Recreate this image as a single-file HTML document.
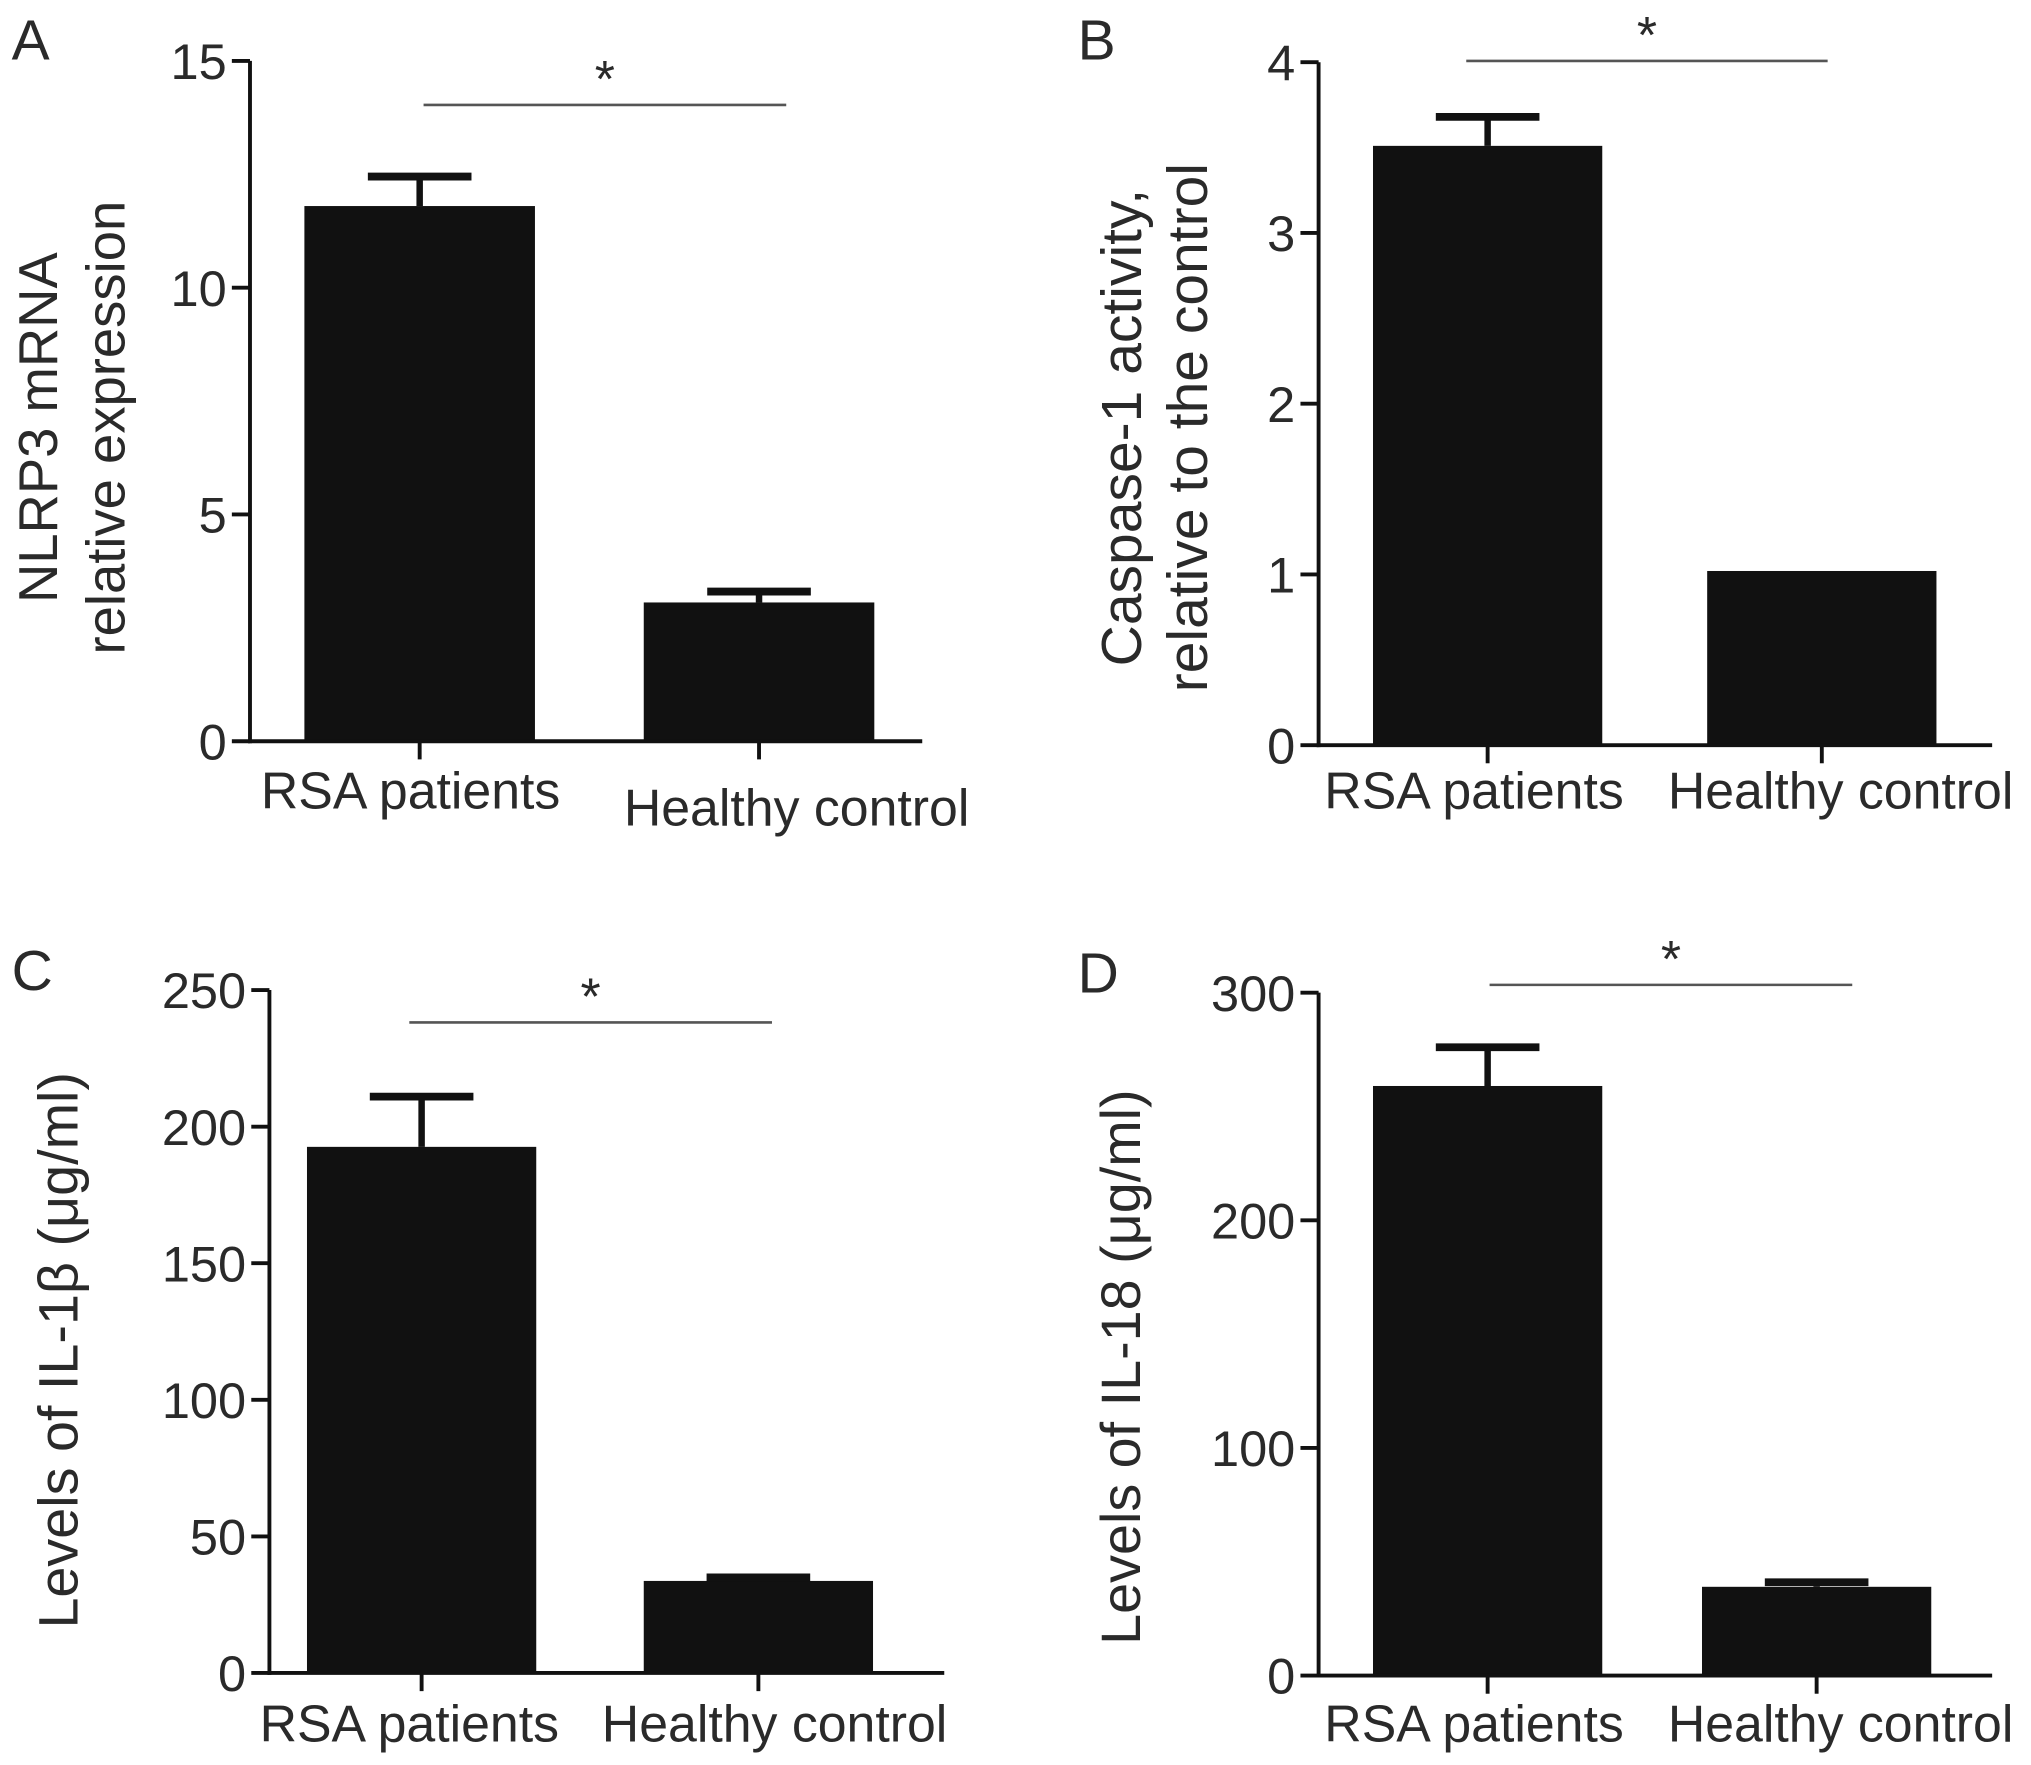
<!DOCTYPE html>
<html><head><meta charset="utf-8"><style>
html,body{margin:0;padding:0;background:#fff;}
svg{display:block;}
text{font-family:"Liberation Sans",Arial,sans-serif;fill:#2a2a2a;}
</style></head><body>
<svg id="fig" width="2031" height="1765" viewBox="0 0 1568 1362" preserveAspectRatio="none" xmlns="http://www.w3.org/2000/svg"></svg>
<script>
const categories = ["RSA patients", "Healthy control"];
const meansA = [11.8, 3.06];
const errA = [12.45, 3.3];
const ticksA = [0, 5, 10, 15];
const meansB = [3.51, 1.02];
const errB = [3.68, 1.02];
const ticksB = [0, 1, 2, 3, 4];
const meansC = [192.6, 33.7];
const errC = [211, 35];
const ticksC = [0, 50, 100, 150, 200, 250];
const meansD = [259, 39];
const errD = [276, 41];
const ticksD = [0, 100, 200, 300];

const NS = "http://www.w3.org/2000/svg";
const svg = document.getElementById('fig');
function mk(tag, attrs, parent, txt){
  const e = document.createElementNS(NS, tag);
  for (const k in attrs) e.setAttribute(k, attrs[k]);
  if (txt !== undefined) e.textContent = txt;
  (parent || svg).appendChild(e);
  return e;
}
function panel(cfg, means, errs, ticks){
  const g = mk('g', {});
  
  
  const ymax = ticks[ticks.length - 1];
  const yS = v => cfg.zero - (cfg.zero - cfg.top) * v / ymax;
  const L = mk('text', {x: cfg.lx, y: cfg.ly, 'font-size': 44}, g, cfg.id);
  
  
  means.forEach((m, i) => {
    const bx = cfg.barX[i], bw = cfg.barW;
    const r = mk('rect', {x: bx, y: yS(m), width: bw, height: cfg.zero - yS(m), fill: '#111'}, g);
    
    
    const cx = bx + bw / 2;
    if (errs[i] > m) {
      const e1 = mk('line', {x1: cx, x2: cx, y1: yS(m), y2: yS(errs[i]), stroke: '#111', 'stroke-width': 5}, g);
      
      
      const e2 = mk('line', {x1: cx - 40, x2: cx + 40, y1: yS(errs[i]), y2: yS(errs[i]), stroke: '#111', 'stroke-width': 6}, g);
      
      
    }
    const t = mk('line', {x1: cx, x2: cx, y1: cfg.zero, y2: cfg.zero + 14, stroke: '#111', 'stroke-width': 3}, g);
    
    
    const lab = mk('text', {x: cfg.catX[i], y: cfg.catY[i], 'font-size': 40, 'text-anchor': 'middle'}, g, categories[i]);
    
    
  });
  const ya = mk('line', {x1: cfg.ax, x2: cfg.ax, y1: cfg.top, y2: cfg.zero + 1.5, stroke: '#111', 'stroke-width': 3}, g);
  
  
  const xa = mk('line', {x1: cfg.ax - 1.5, x2: cfg.xEnd, y1: cfg.zero, y2: cfg.zero, stroke: '#111', 'stroke-width': 3}, g);
  
  
  ticks.forEach(v => {
    const tl = mk('line', {x1: cfg.ax - 14, x2: cfg.ax, y1: yS(v), y2: yS(v), stroke: '#111', 'stroke-width': 3}, g);
    
    
    const tt = mk('text', {x: cfg.ax - 18, y: yS(v) + 14, 'font-size': 39, 'text-anchor': 'end'}, g, String(v));
    
    
  });
  cfg.ylab.forEach((s, j) => {
    const yl = mk('text', {x: 0, y: 0, 'font-size': cfg.yfs, 'text-anchor': 'middle',
      transform: `translate(${cfg.ylx[j]},${cfg.yly}) rotate(-90)`}, g, s);
    
    
  });
  const sl = mk('line', {x1: cfg.sig[0], x2: cfg.sig[1], y1: cfg.sig[2], y2: cfg.sig[2], stroke: '#555', 'stroke-width': 2}, g);
  
  
  const st = mk('text', {x: (cfg.sig[0] + cfg.sig[1]) / 2, y: cfg.sig[2] - 6, 'font-size': 40, 'text-anchor': 'middle'}, g, '*');
  
  
}
panel({id:'A', lx:9, ly:46, ax:193, top:47, zero:572, xEnd:712, barX:[235,497], barW:178,
  catX:[317,615], catY:[624,637], ylab:['NLRP3 mRNA','relative expression'], ylx:[44,96], yly:330, yfs:42,
  sig:[327,607,81]}, meansA, errA, ticksA);
panel({id:'B', lx:832, ly:46, ax:1018, top:48, zero:575, xEnd:1538, barX:[1060,1318], barW:177,
  catX:[1138,1421], catY:[624,624], ylab:['Caspase-1 activity,','relative to the control'], ylx:[881,932], yly:330, yfs:44,
  sig:[1132,1411,47]}, meansB, errB, ticksB);
panel({id:'C', lx:9, ly:764, ax:208, top:764, zero:1291, xEnd:729, barX:[237,497], barW:177,
  catX:[316,598], catY:[1344,1344], ylab:['Levels of IL-1β (μg/ml)'], ylx:[60], yly:1042, yfs:43,
  sig:[316,596,789]}, meansC, errC, ticksC);
panel({id:'D', lx:832, ly:766, ax:1018, top:766, zero:1293, xEnd:1538, barX:[1060,1314], barW:177,
  catX:[1138,1421], catY:[1344,1344], ylab:['Levels of IL-18 (μg/ml)'], ylx:[880], yly:1055, yfs:43,
  sig:[1150,1430,760]}, meansD, errD, ticksD);
</script>
</body></html>
